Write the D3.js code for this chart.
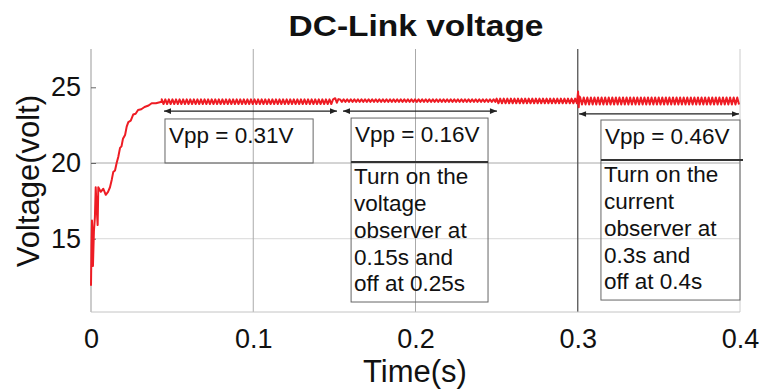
<!DOCTYPE html>
<html>
<head>
<meta charset="utf-8">
<script src="https://cdn.jsdelivr.net/npm/d3@7"></script>
<style>
  html, body { margin: 0; padding: 0; background: #fff; }
  svg { display: block; font-family: "Liberation Sans", Arial, sans-serif; }
</style>
</head>
<body>
<svg id="chart" width="762" height="391"></svg>
<script>
// ---------------- DATA ----------------
const titleText = "DC-Link voltage";
const xLabel = "Time(s)";
const yLabel = "Voltage(volt)";
const xTicks = [0, 0.1, 0.2, 0.3, 0.4];
const xTickLabels = ["0", "0.1", "0.2", "0.3", "0.4"];
const yTicks = [15, 20, 25];
const yTickLabels = ["15", "20", "25"];

// start-up transient (time s, voltage V)
const startT = [0, 0.0003, 0.0006, 0.0009, 0.0012, 0.0018, 0.0024, 0.0029, 0.0035, 0.0041, 0.0045,
  0.006, 0.0076, 0.0091, 0.0105, 0.0117, 0.0128, 0.0137, 0.0148, 0.0158, 0.0168, 0.0179, 0.0188,
  0.0197, 0.021, 0.022, 0.023, 0.0245, 0.026, 0.0275, 0.029, 0.031, 0.033, 0.0355, 0.0374, 0.040, 0.0436];
const startV = [11.9, 14.5, 16.2, 15.2, 13.2, 15.5, 16.4, 18.4, 17.0, 15.9, 18.4,
  18.1, 18.3, 17.9, 18.1, 18.4, 18.9, 19.4, 19.5, 20.0, 20.4, 21.0, 21.1,
  21.6, 21.85, 22.4, 22.7, 22.8, 23.2, 23.25, 23.5, 23.55, 23.7, 23.8, 23.95, 23.95, 24.05];

// steady-state ripple segments: start, end, mean level, peak-to-peak ripple
const segStart = [0.0436, 0.1535, 0.25, 0.3015];
const segEnd   = [0.1500, 0.2500, 0.30, 0.4000];
const segMean  = [24.05, 24.12, 24.1, 24.1];
const segVpp   = [0.31, 0.16, 0.31, 0.46];
const ripplePeriod = 0.0022;

// bump when the voltage observer turns on (~0.15 s)
const bumpT = [0.1505, 0.1515, 0.1525];
const bumpV = [24.28, 23.98, 24.22];
// spike when the current observer turns on (0.3 s)
const spikeT = [0.3002, 0.3006, 0.3010];
const spikeV = [24.72, 23.68, 24.4];

// annotations
const vppLabels = ["Vpp = 0.31V", "Vpp = 0.16V", "Vpp = 0.46V"];
const noteLines = [
  [],
  ["Turn on the", "voltage", "observer at", "0.15s and", "off at 0.25s"],
  ["Turn on the", "current", "observer at", "0.3s and", "off at 0.4s"]
];
const arrowT0 = [0.0450, 0.1553, 0.3008];
const arrowT1 = [0.1516, 0.2502, 0.3994];
const arrowV  = [23.43, 23.43, 23.24];
const boxT0 = [0.0456, 0.1603, 0.3143];
const boxT1 = [0.1369, 0.2447, 0.4000];
const boxTopV = [22.91, 22.97, 22.84];
const boxDivV = [20.0, 20.07, 20.2];
const boxBotV = [20.0, 10.82, 10.95];

// ---------------- BUILD SERIES ----------------
function ripple(i) {
  const pts = [];
  const half = ripplePeriod / 2;
  let k = 0;
  for (let t = segStart[i]; t <= segEnd[i] + 1e-9; t += half, k++) {
    pts.push([t, segMean[i] + (k % 2 === 0 ? 1 : -1) * segVpp[i] / 2]);
  }
  return pts;
}
let series = startT.map((t, i) => [t, startV[i]]);
series = series.concat(ripple(0));
series = series.concat(bumpT.map((t, i) => [t, bumpV[i]]));
series = series.concat(ripple(1));
series = series.concat(ripple(2));
series = series.concat(spikeT.map((t, i) => [t, spikeV[i]]));
series = series.concat(ripple(3));

// ---------------- DRAW ----------------
const svg = d3.select("#chart");
const x = d3.scaleLinear().domain([0, 0.4]).range([91, 740]);
const y = d3.scaleLinear().domain([10.16, 27.53]).range([312, 49]);
const pTop = y.range()[1], pBot = y.range()[0], pLeft = x.range()[0], pRight = x.range()[1];

// grid
svg.append("g").selectAll("line").data([15, 20]).join("line")
  .attr("x1", pLeft).attr("x2", pRight)
  .attr("y1", d => y(d)).attr("y2", d => y(d))
  .attr("stroke", (d) => d === 20 ? "#a8a8a8" : "#d8d8d8").attr("stroke-width", 1);
svg.append("g").selectAll("line").data([0.1, 0.2, 0.3]).join("line")
  .attr("x1", d => x(d)).attr("x2", d => x(d))
  .attr("y1", pTop).attr("y2", pBot)
  .attr("stroke", d => d === 0.3 ? "#555" : "#aaa").attr("stroke-width", d => d === 0.3 ? 1.3 : 1);

// axes frame
svg.append("line").attr("x1", pLeft).attr("x2", pLeft).attr("y1", pTop).attr("y2", pBot).attr("stroke", "#999");
svg.append("line").attr("x1", pRight).attr("x2", pRight).attr("y1", pTop).attr("y2", pBot).attr("stroke", "#ccc");
svg.append("line").attr("x1", pLeft).attr("x2", pRight).attr("y1", pBot).attr("y2", pBot).attr("stroke", "#c4c4c4");

// y axis via d3
const yAxis = d3.axisLeft(y).tickValues(yTicks).tickFormat((d, i) => yTickLabels[i]).tickSize(-5).tickPadding(10);
const gy = svg.append("g").attr("transform", `translate(${pLeft},0)`).call(yAxis);
gy.select(".domain").remove();
gy.selectAll(".tick line").attr("stroke", "#666");
gy.selectAll(".tick text").attr("font-size", 27).attr("fill", "#111")
  .attr("font-family", "Liberation Sans, Arial, sans-serif");

// x axis via d3
const xAxis = d3.axisBottom(x).tickValues(xTicks).tickFormat((d, i) => xTickLabels[i]).tickSize(0).tickPadding(17);
const gx = svg.append("g").attr("transform", `translate(0,${pBot})`).call(xAxis);
gx.select(".domain").remove();
gx.selectAll(".tick text").attr("font-size", 27).attr("fill", "#111")
  .attr("font-family", "Liberation Sans, Arial, sans-serif");

// signal
svg.append("path").datum(series)
  .attr("fill", "none").attr("stroke", "#ee1c24").attr("stroke-width", 2)
  .attr("stroke-linejoin", "round")
  .attr("d", d3.line().x(d => x(d[0])).y(d => y(d[1])));

// arrow markers
const defs = svg.append("defs");
defs.append("marker").attr("id", "ah").attr("viewBox", "0 0 10 10")
  .attr("refX", 10).attr("refY", 5).attr("markerWidth", 9).attr("markerHeight", 7)
  .attr("markerUnits", "userSpaceOnUse").attr("orient", "auto-start-reverse")
  .append("path").attr("d", "M0,1 L10,5 L0,9 Z").attr("fill", "#222");

arrowT0.forEach((t0, i) => {
  svg.append("line")
    .attr("x1", x(t0)).attr("x2", x(arrowT1[i]))
    .attr("y1", y(arrowV[i])).attr("y2", y(arrowV[i]))
    .attr("stroke", "#222").attr("stroke-width", 1.2)
    .attr("marker-start", "url(#ah)").attr("marker-end", "url(#ah)");
});

// boxes
boxT0.forEach((t0, i) => {
  const bx = x(t0), bw = x(boxT1[i]) - x(t0);
  const by = y(boxTopV[i]), bh = y(boxBotV[i]) - y(boxTopV[i]);
  svg.append("rect").attr("x", bx).attr("y", by).attr("width", bw).attr("height", bh)
    .attr("fill", "none").attr("stroke", "#666").attr("stroke-width", 1);
  svg.append("text").attr("x", bx + 4).attr("y", by + 24)
    .attr("font-size", 22.5).attr("fill", "#111").text(vppLabels[i]);
  if (noteLines[i].length) {
    const dy = y(boxDivV[i]);
    svg.append("line").attr("x1", bx).attr("x2", bx + bw + (i === 2 ? 3 : 0))
      .attr("y1", dy).attr("y2", dy).attr("stroke", "#333").attr("stroke-width", 2);
    noteLines[i].forEach((ln, j) => {
      svg.append("text").attr("x", bx + 3).attr("y", dy + 22.5 + j * 26.7)
        .attr("font-size", 22.5).attr("fill", "#111").text(ln);
    });
  }
});

// title
svg.append("text").attr("x", 416).attr("y", 36).attr("text-anchor", "middle")
  .attr("font-size", 30).attr("font-weight", "bold").attr("fill", "#111")
  .attr("textLength", 255).attr("lengthAdjust", "spacingAndGlyphs").text(titleText);

// axis labels
svg.append("text").attr("x", 415).attr("y", 382).attr("text-anchor", "middle")
  .attr("font-size", 31).attr("fill", "#111").text(xLabel);
svg.append("text").attr("transform", "translate(39,181) rotate(-90)").attr("text-anchor", "middle")
  .attr("font-size", 31).attr("fill", "#111").text(yLabel);
</script>
</body>
</html>
